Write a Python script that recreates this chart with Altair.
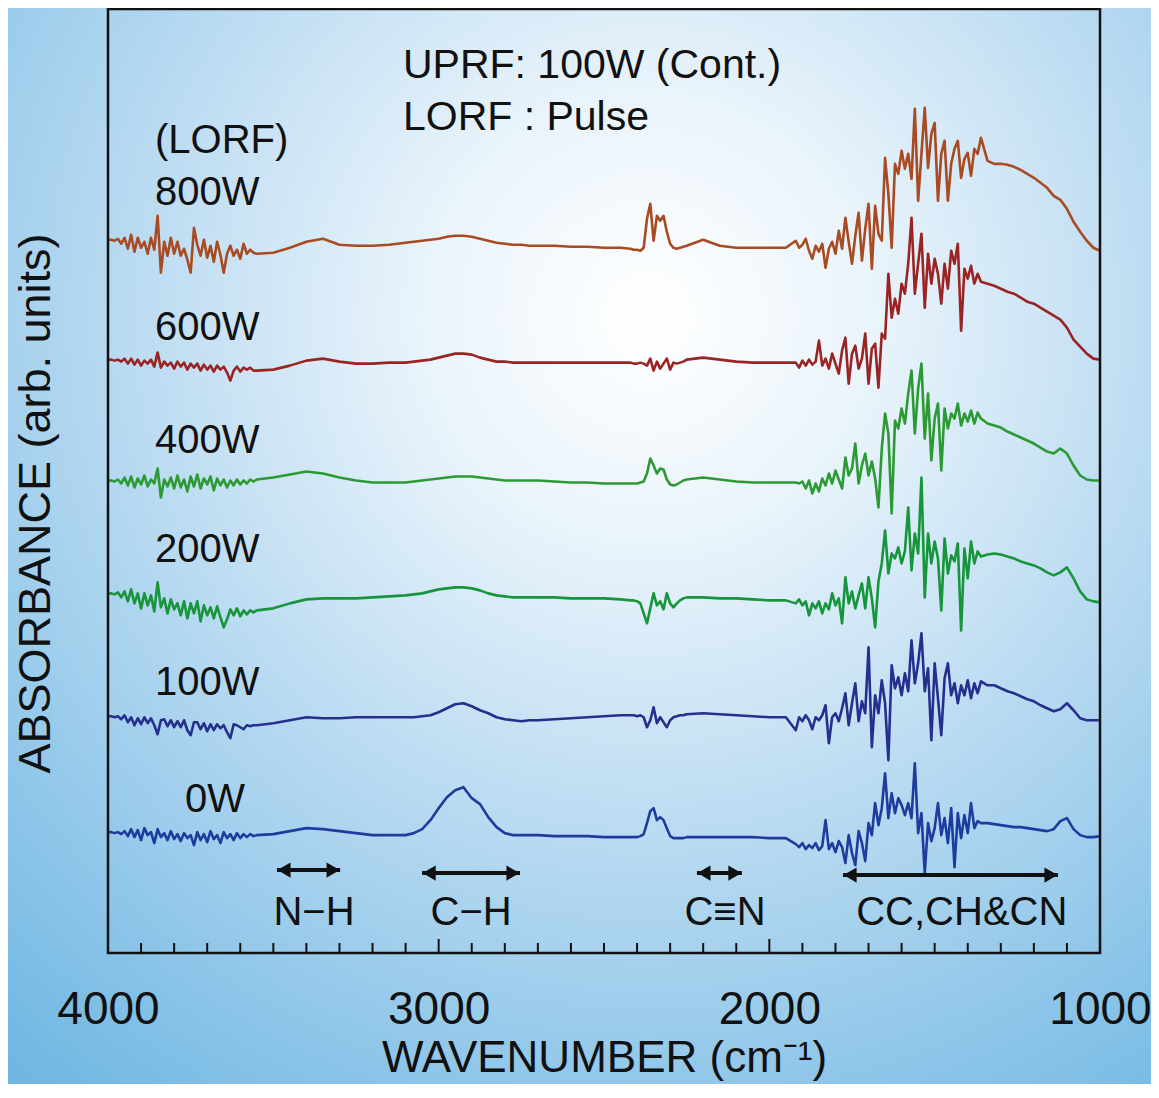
import altair as alt
import pandas as pd

FONT = "Liberation Sans"
INK = "#111111"

# ---------------- spectra (wavenumber grid shared by all series) ----------------
WAVENUMBER = (
    [4000, 3990, 3980, 3970, 3960, 3950, 3940, 3930, 3920, 3910,
     3900, 3890, 3880, 3870, 3860, 3850, 3840, 3830, 3820, 3810,
     3800, 3790, 3780, 3770, 3760, 3750, 3740, 3730, 3720, 3710,
     3700, 3690, 3680, 3670, 3660, 3650, 3640, 3630, 3620, 3610,
     3600, 3590, 3580, 3570, 3560]
    + [3550, 3500, 3450, 3400, 3350, 3300, 3250, 3200, 3150]
    + [3100, 3075, 3050, 3025, 3000, 2975, 2950, 2925, 2900, 2875,
       2850, 2825, 2800, 2775, 2750, 2725, 2700]
    + [2650, 2600, 2550, 2500, 2450]
    + [2420, 2410, 2400, 2390, 2380, 2370, 2360, 2350, 2340, 2330,
       2320, 2310, 2300, 2290, 2280, 2270, 2260]
    + [2250, 2200, 2150, 2100, 2050, 2000, 1950]
    + [1920, 1910, 1900, 1890, 1880, 1870, 1860, 1850, 1840, 1830,
       1820, 1810, 1800, 1790, 1780, 1770, 1760, 1750, 1740, 1730,
       1720, 1710, 1700, 1690, 1680, 1670, 1660, 1650, 1640, 1630,
       1620, 1610, 1600, 1590, 1580, 1570, 1560, 1550, 1540, 1530,
       1520, 1510, 1500, 1490, 1480, 1470, 1460, 1450, 1440, 1430,
       1420, 1410, 1400, 1390, 1380, 1370, 1360]
    + [1340, 1320, 1300, 1280, 1260, 1240, 1220, 1200, 1180, 1160,
       1140, 1120, 1100, 1080, 1060, 1040, 1020, 1000]
)

A_0W = (
    [121, 121, 120, 121, 119, 122, 117, 124, 116, 123,
     113, 125, 118, 121, 110, 124, 116, 120, 113, 122,
     114, 119, 112, 120, 115, 118, 108, 121, 113, 119,
     111, 122, 114, 118, 110, 121, 115, 119, 113, 120,
     115, 119, 116, 119, 117]
    + [118, 119, 122, 125, 124, 122, 120, 118, 118]
    + [118, 120, 124, 133, 145, 156, 163, 166, 155, 149,
       136, 126, 120, 118, 118, 118, 118]
    + [117, 117, 117, 116, 116]
    + [116, 116, 116, 117, 119, 130, 142, 145, 133, 136,
       133, 125, 117, 115, 115, 115, 115]
    + [116, 116, 116, 116, 116, 115, 115]
    + [109, 106, 110, 104, 108, 105, 110, 103, 107, 133,
       104, 110, 101, 112, 106, 90, 118, 100, 88, 122,
       110, 92, 130, 118, 150, 128, 145, 180, 135, 160,
       140, 155, 148, 138, 150, 135, 190, 120, 140, 80,
       130, 112, 125, 150, 118, 135, 110, 145, 86, 140,
       115, 138, 120, 150, 125, 132, 130]
    + [130, 129, 128, 127, 126, 126, 125, 124, 123, 122,
       124, 132, 135, 124, 118, 116, 116, 117]
)

A_100W = (
    [237, 237, 236, 237, 234, 238, 231, 236, 228, 235,
     229, 236, 230, 235, 228, 219, 233, 234, 227, 233,
     226, 232, 226, 233, 223, 218, 231, 231, 224, 230,
     222, 229, 223, 229, 225, 228, 221, 215, 229, 228,
     226, 224, 228, 227, 228]
    + [228, 230, 233, 236, 235, 235, 236, 236, 236]
    + [236, 236, 237, 238, 241, 245, 249, 250, 247, 243,
       240, 236, 234, 233, 232, 233, 233]
    + [234, 235, 236, 237, 238]
    + [238, 238, 237, 238, 236, 226, 233, 246, 230, 236,
       231, 226, 233, 236, 237, 238, 238]
    + [239, 240, 239, 238, 237, 236, 236]
    + [223, 236, 232, 238, 233, 224, 236, 233, 238, 248,
       210, 236, 240, 232, 245, 260, 228, 250, 270, 232,
       252, 240, 306, 206, 258, 240, 273, 250, 193, 288,
       265, 276, 258, 280, 262, 313, 270, 290, 320, 262,
       285, 213, 290, 255, 218, 275, 290, 258, 270, 250,
       268, 258, 273, 255, 270, 260, 272]
    + [268, 268, 265, 262, 260, 257, 254, 252, 248, 245,
       242, 244, 250, 243, 235, 233, 233, 233]
)

A_200W = (
    [360, 360, 359, 361, 356, 362, 352, 364, 350, 360,
     345, 360, 348, 358, 342, 371, 346, 355, 340, 354,
     344, 350, 338, 352, 335, 350, 340, 352, 332, 348,
     338, 346, 335, 347, 336, 326, 334, 344, 338, 345,
     337, 343, 339, 343, 341]
    + [343, 345, 350, 354, 355, 355, 355, 356, 357]
    + [358, 359, 360, 362, 364, 365, 366, 366, 365, 363,
       360, 358, 357, 356, 356, 356, 356]
    + [356, 355, 355, 355, 354]
    + [353, 353, 352, 350, 340, 330, 345, 360, 348, 352,
       344, 360, 350, 346, 350, 353, 355]
    + [356, 356, 355, 355, 354, 353, 353]
    + [350, 354, 348, 352, 338, 350, 345, 352, 340, 350,
       344, 360, 348, 355, 330, 376, 350, 362, 345, 358,
       370, 345, 376, 355, 326, 372, 390, 423, 380, 400,
       395, 406, 390, 402, 446, 383, 420, 400, 476, 356,
       420, 390, 412, 395, 343, 415, 380, 398, 392, 410,
       323, 405, 375, 412, 390, 402, 397]
    + [399, 400, 399, 397, 395, 392, 390, 388, 385, 381,
       378, 381, 386, 375, 362, 354, 352, 351]
)

A_400W = (
    [473, 473, 472, 474, 470, 476, 468, 477, 466, 475,
     469, 478, 467, 474, 470, 485, 456, 474, 467, 476,
     465, 478, 466, 474, 462, 477, 467, 479, 465, 475,
     469, 477, 463, 475, 468, 474, 466, 473, 468, 474,
     469, 473, 470, 474, 472]
    + [474, 476, 479, 482, 480, 476, 473, 471, 471]
    + [471, 472, 473, 474, 475, 476, 477, 477, 477, 476,
       475, 474, 473, 473, 473, 473, 473]
    + [472, 471, 471, 470, 470]
    + [470, 470, 470, 471, 472, 480, 495, 488, 480, 485,
       484, 474, 469, 468, 469, 471, 473]
    + [474, 476, 474, 472, 471, 471, 471]
    + [471, 470, 472, 465, 473, 460, 470, 462, 475, 468,
       480, 470, 483, 474, 465, 496, 478, 485, 510, 470,
       488, 500, 478, 492, 475, 446, 505, 540, 520, 440,
       533, 525, 545, 530, 560, 583, 520, 565, 590, 515,
       560, 493, 535, 550, 483, 545, 525, 540, 535, 550,
       528, 540, 532, 543, 530, 541, 535]
    + [530, 528, 526, 522, 519, 516, 513, 510, 506, 502,
       500, 505, 500, 488, 478, 474, 473, 473]
)

A_600W = (
    [594, 594, 593, 594, 592, 595, 590, 595, 589, 594,
     588, 593, 590, 594, 587, 601, 586, 592, 588, 591,
     585, 592, 587, 591, 584, 590, 586, 590, 583, 589,
     584, 588, 582, 588, 584, 587, 581, 573, 583, 587,
     582, 586, 584, 586, 583]
    + [583, 584, 588, 593, 595, 592, 590, 590, 591]
    + [591, 592, 593, 594, 596, 598, 600, 600, 599, 596,
       594, 592, 592, 591, 591, 591, 591]
    + [591, 591, 591, 591, 591]
    + [591, 590, 590, 591, 590, 588, 595, 583, 592, 585,
       590, 595, 584, 591, 590, 591, 592]
    + [594, 596, 594, 592, 591, 591, 591]
    + [591, 586, 593, 588, 594, 589, 592, 613, 588, 595,
       585, 600, 590, 580, 603, 616, 570, 600, 608, 585,
       595, 620, 570, 605, 610, 566, 620, 615, 680, 636,
       655, 640, 670, 660, 690, 736, 660, 690, 720, 646,
       700, 670, 695, 680, 650, 690, 665, 703, 690, 710,
       623, 685, 675, 688, 670, 680, 672]
    + [670, 668, 665, 662, 660, 656, 652, 650, 646, 642,
       638, 634, 626, 614, 607, 600, 595, 594]
)

A_800W = (
    [714, 714, 713, 715, 710, 716, 705, 719, 702, 716,
     706, 712, 700, 716, 704, 738, 681, 712, 698, 716,
     700, 712, 698, 705, 694, 681, 726, 709, 698, 714,
     696, 708, 692, 712, 699, 681, 700, 708, 698, 704,
     695, 710, 700, 704, 701]
    + [700, 701, 706, 712, 715, 709, 708, 708, 709]
    + [711, 712, 713, 714, 715, 717, 718, 718, 717, 715,
       713, 711, 710, 709, 709, 708, 708]
    + [708, 707, 707, 706, 706]
    + [705, 704, 704, 703, 706, 735, 750, 713, 738, 733,
       738, 722, 710, 706, 705, 706, 707]
    + [708, 714, 708, 706, 706, 706, 706]
    + [713, 706, 709, 715, 703, 695, 708, 702, 710, 686,
       705, 712, 700, 723, 705, 736, 712, 690, 718, 741,
       693, 725, 750, 685, 748, 720, 713, 796, 760, 706,
       790, 780, 803, 785, 800, 775, 845, 753, 800, 846,
       786, 820, 831, 753, 800, 813, 753, 790, 805, 813,
       776, 795, 801, 778, 805, 800, 816]
    + [793, 790, 790, 789, 787, 784, 780, 776, 771, 766,
       758, 754, 745, 732, 722, 713, 706, 703]
)

SERIES = ["0W", "100W", "200W", "400W", "600W", "800W"]
SERIES_VALUES = [A_0W, A_100W, A_200W, A_400W, A_600W, A_800W]
SERIES_COLORS = ["#1e3c9e", "#262f8e", "#17953a", "#2b9a33", "#9a2424", "#a84a22"]

# ---------------- annotations ----------------
POWER_LABELS = ["(LORF)", "800W", "600W", "400W", "200W", "100W", "0W"]
POWER_X = [3858, 3858, 3858, 3858, 3858, 3858, 3767]
POWER_Y = [813, 761, 626, 513, 403, 270, 153]

HEADER_LABELS = ["UPRF: 100W (Cont.)", "LORF : Pulse"]
HEADER_X = [3108, 3108]
HEADER_Y = [888, 836]

BAND_LABELS = ["N−H", "C−H", "C≡N", "CC,CH&CN"]
BAND_FROM = [3489, 3050, 2219, 1777]
BAND_TO = [3298, 2754, 2083, 1127]
BAND_ARROW_Y = [83, 80, 80, 78]
BAND_TEXT_X = [3377, 2902, 2134, 1418]
BAND_TEXT_Y = [40, 40, 40, 40]

X_LABEL_VALUES = [4000, 3000, 2000, 1000]
MINOR_TICKS = [3900, 3800, 3700, 3600, 3500, 3400, 3300, 3200, 3100,
               2900, 2800, 2700, 2600, 2500, 2400, 2300, 2200, 2100,
               1900, 1800, 1700, 1600, 1500, 1400, 1300, 1200, 1100]
MAJOR_TICKS = [3000, 2000]

# ---------------- build ----------------
rows = []
for name, vals in zip(SERIES, SERIES_VALUES):
    for w, a in zip(WAVENUMBER, vals):
        rows.append({"series": name, "wavenumber": w, "absorbance": a})
spectra = pd.DataFrame(rows)

power_df = pd.DataFrame({"label": POWER_LABELS, "x": POWER_X, "y": POWER_Y})
header_df = pd.DataFrame({"label": HEADER_LABELS, "x": HEADER_X, "y": HEADER_Y})
band_df = pd.DataFrame({
    "label": BAND_LABELS, "x_from": BAND_FROM, "x_to": BAND_TO,
    "y": BAND_ARROW_Y, "x_text": BAND_TEXT_X, "y_text": BAND_TEXT_Y,
})
minor_df = pd.DataFrame({"wavenumber": MINOR_TICKS})
major_df = pd.DataFrame({"wavenumber": MAJOR_TICKS})
one = pd.DataFrame({"k": [0]})

XS = alt.Scale(domain=[4000, 1000], nice=False, zero=False)
YS = alt.Scale(domain=[0, 945], nice=False, zero=False)

XAX = alt.Axis(
    values=X_LABEL_VALUES, format="d", labelFontSize=46, labelFont=FONT,
    labelColor=INK, labelFlush=False, labelOverlap=False, labelPadding=34,
    ticks=False, tickSize=0, domain=False, grid=False, zindex=2,
    title="WAVENUMBER (cm⁻¹)", titleFontSize=44, titleFont=FONT,
    titleFontWeight="normal", titleColor=INK, titleY=105, titleBaseline="middle",
)
YAX = alt.Axis(
    labels=False, ticks=False, domain=False, grid=False, zindex=2,
    title="ABSORBANCE (arb. units)", titleFontSize=45, titleFont=FONT,
    titleFontWeight="normal", titleColor=INK, titleAngle=270,
    titleX=-73, titleY=494, titleAlign="center", titleBaseline="middle",
)

gradient = {
    "gradient": "radial",
    "x1": 0.56, "y1": 0.30, "r1": 0.0,
    "x2": 0.56, "y2": 0.30, "r2": 0.88,
    "stops": [
        {"offset": 0.0, "color": "#ffffff"},
        {"offset": 0.22, "color": "#eaf4fb"},
        {"offset": 0.50, "color": "#bddcf2"},
        {"offset": 0.78, "color": "#8ec6e9"},
        {"offset": 1.0, "color": "#6cb5e1"},
    ],
}

bg = alt.Chart(one).mark_rect(fill=gradient, strokeWidth=0).encode(
    x=alt.value(-100), x2=alt.value(1043), y=alt.value(-1), y2=alt.value(1075)
)

lines = alt.Chart(spectra).mark_line(strokeWidth=2.6, strokeJoin="round").encode(
    x=alt.X("wavenumber:Q", scale=XS, axis=XAX),
    y=alt.Y("absorbance:Q", scale=YS, axis=YAX),
    color=alt.Color("series:N", scale=alt.Scale(domain=SERIES, range=SERIES_COLORS), legend=None),
    detail="series:N",
)

minor = alt.Chart(minor_df).mark_rule(color=INK, strokeWidth=2).encode(
    x=alt.X("wavenumber:Q", scale=XS, axis=XAX), y=alt.value(944), y2=alt.value(934)
)
major = alt.Chart(major_df).mark_rule(color=INK, strokeWidth=2).encode(
    x=alt.X("wavenumber:Q", scale=XS, axis=XAX), y=alt.value(944), y2=alt.value(930)
)

shaft = alt.Chart(band_df).mark_rule(color=INK, strokeWidth=4).encode(
    x=alt.X("x_from:Q", scale=XS, axis=XAX), x2="x_to:Q",
    y=alt.Y("y:Q", scale=YS, axis=YAX),
)
head_l = alt.Chart(band_df).mark_point(
    shape="triangle-left", filled=True, size=230, color=INK, opacity=1, xOffset=7
).encode(x=alt.X("x_from:Q", scale=XS, axis=XAX), y=alt.Y("y:Q", scale=YS, axis=YAX))
head_r = alt.Chart(band_df).mark_point(
    shape="triangle-right", filled=True, size=230, color=INK, opacity=1, xOffset=-7
).encode(x=alt.X("x_to:Q", scale=XS, axis=XAX), y=alt.Y("y:Q", scale=YS, axis=YAX))

band_text = alt.Chart(band_df).mark_text(
    align="center", baseline="middle", fontSize=40, font=FONT, color=INK
).encode(
    x=alt.X("x_text:Q", scale=XS, axis=XAX), y=alt.Y("y_text:Q", scale=YS, axis=YAX), text="label:N"
)

power_text = alt.Chart(power_df).mark_text(
    align="left", baseline="middle", fontSize=40, font=FONT, color=INK
).encode(
    x=alt.X("x:Q", scale=XS, axis=XAX), y=alt.Y("y:Q", scale=YS, axis=YAX), text="label:N"
)

header_text = alt.Chart(header_df).mark_text(
    align="left", baseline="middle", fontSize=41, font=FONT, color=INK
).encode(
    x=alt.X("x:Q", scale=XS, axis=XAX), y=alt.Y("y:Q", scale=YS, axis=YAX), text="label:N"
)

frame = alt.Chart(one).mark_rect(fillOpacity=0, stroke=INK, strokeWidth=2.5).encode(
    x=alt.value(0), x2=alt.value(992), y=alt.value(0), y2=alt.value(944)
)

chart = alt.layer(
    bg, lines, minor, major, shaft, head_l, head_r, band_text, power_text, header_text, frame
).properties(
    width=992, height=944,
    padding={"left": 100, "top": 1, "right": 51, "bottom": 131},
    autosize=alt.AutoSizeParams(type="none"),
    background="#8cc4e8",
).configure_view(stroke="transparent")

chart.save("out.html", embed_options={"renderer": "svg", "actions": False})
